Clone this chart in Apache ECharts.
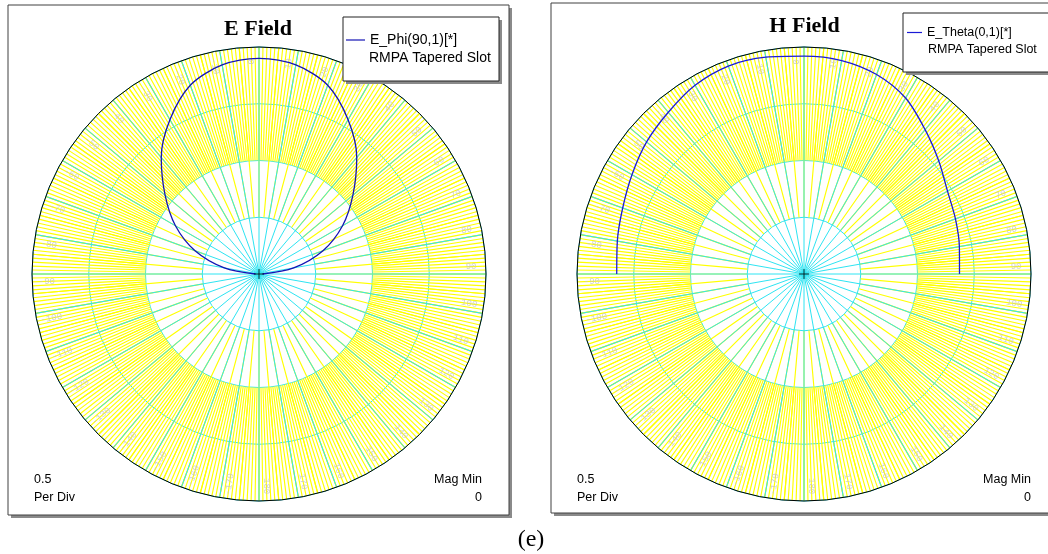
<!DOCTYPE html>
<html><head><meta charset="utf-8">
<script src="https://cdn.jsdelivr.net/npm/echarts@6/dist/echarts.min.js"></script>
<style>html,body{margin:0;padding:0;background:#fff}#c{width:1048px;height:554px}</style>
</head><body><div id="c"></div>
<script>
// ---- data ----
const angleDeg = [-90,-80,-70,-60,-50,-40,-30,-20,-10,0,10,20,30,40,50,60,70,80,90];
const ePhi90   = [0.03,0.31,0.60,0.85,1.08,1.34,1.57,1.77,1.87,1.90,1.87,1.77,1.57,1.34,1.08,0.85,0.60,0.31,0.03];
const eTheta0  = [1.65,1.67,1.70,1.75,1.81,1.86,1.92,1.95,1.94,1.92,1.91,1.87,1.79,1.66,1.55,1.46,1.42,1.39,1.37];
const angleTickLabels = [-170,-160,-150,-140,-130,-120,-110,-100,-90,-80,-70,-60,-50,-40,-30,-20,-10,0,10,20,30,40,50,60,70,80,90,100,110,120,130,140,150,160,170,180];
const seriesNames = ['E_Phi(90,1)[*]', 'E_Theta(0,1)[*]'];
const subtitle = 'RMPA Tapered Slot';
const titles = ['E Field', 'H Field'];
const perDiv = 0.5, magMin = 0, magMax = 2;
const labelRadius = 1.87;

// ---- layout ----
const panels = [
  {cx: 259, cy: 274, data: ePhi90, color: '#1414b4', frame:[8,5,501,510], title:[258,29], legendBox:[343,17,156,64], legendLine:[346,41], legendFont:14, iconW:19, sub:[369,58], leftText:34, rightText:482},
  {cx: 804, cy: 274, data: eTheta0, color: '#1a1ad6', frame:[551,3,510,510], title:[804.5,26], legendBox:[903,13,160,59], legendLine:[907,34], legendFont:12.5, iconW:15, sub:[928,50], leftText:577, rightText:1031}
];
const R = 227;
const CYAN = '#2ee4f2', YELLOW = '#ffff00';

const polar = [], angleAxis = [], radiusAxis = [], series = [], legend = [], graphic = [];

function aAxis(pi, opts) {
  return Object.assign({
    polarIndex: pi, type: 'value', min: -180, max: 180, startAngle: 270, clockwise: true,
    axisLine: {show: false}, axisTick: {show: false}, axisLabel: {show: false}, splitLine: {show: false}
  }, opts);
}
function rAxis(pi, opts) {
  return Object.assign({
    polarIndex: pi, type: 'value', min: magMin, max: magMax, interval: perDiv,
    axisLine: {show: false}, axisTick: {show: false}, axisLabel: {show: false}, splitLine: {show: false}
  }, opts);
}

panels.forEach((p, k) => {
  const b = k * 4;
  polar.push({center: [p.cx, p.cy], radius: [R / 2, R]});
  polar.push({center: [p.cx, p.cy], radius: [R / 4, R]});
  polar.push({center: [p.cx, p.cy], radius: R});
  polar.push({center: [p.cx, p.cy], radius: R});
  angleAxis.push(aAxis(b, {interval: 1, splitLine: {show: true, lineStyle: {color: YELLOW, width: 1.15}}}));
  angleAxis.push(aAxis(b + 1, {interval: 5, splitLine: {show: true, lineStyle: {color: YELLOW, width: 1.15}}}));
  angleAxis.push(aAxis(b + 2, {interval: 10, splitLine: {show: true, lineStyle: {color: CYAN, width: 1}}}));
  angleAxis.push(aAxis(b + 3, {interval: 10, startAngle: 272, axisLine: {show: true, lineStyle: {color: '#000', width: 1}}}));
  radiusAxis.push(rAxis(b));
  radiusAxis.push(rAxis(b + 1));
  radiusAxis.push(rAxis(b + 2, {splitLine: {show: true, lineStyle: {color: CYAN, width: 1}}}));
  radiusAxis.push(rAxis(b + 3));

  series.push({
    name: seriesNames[k], type: 'line', coordinateSystem: 'polar', polarIndex: b + 2,
    data: angleDeg.map((a, i) => [p.data[i], a]), symbol: 'none', smooth: 0.3,
    color: p.color, lineStyle: {color: p.color, width: 1.3}, z: 3, silent: true
  });
  series.push({
    type: 'scatter', coordinateSystem: 'polar', polarIndex: b + 3, symbolSize: 0, silent: true, z: 2,
    data: angleTickLabels.map(a => ({
      value: [labelRadius, a],
      label: {rotate: a >= 0 ? 90 - a : -90 - a}
    })),
    label: {show: true, position: 'inside', formatter: q => String(q.value[1]),
      color: '#c4c4c4', fontSize: 9, fontFamily: 'Liberation Mono'}
  });
  series.push({
    type: 'scatter', coordinateSystem: 'polar', polarIndex: b + 3, silent: true, z: 4,
    data: [[0, 0]], symbol: 'path://M5,0L5,10M0,5L10,5', symbolSize: 10,
    itemStyle: {color: 'transparent', borderColor: '#000', borderWidth: 1}
  });

  legend.push({
    data: [seriesNames[k]], left: p.legendLine[0], top: p.legendLine[1] - 8, padding: 0,
    icon: 'rect', itemWidth: p.iconW, itemHeight: 1.2, itemGap: 0, selectedMode: false, z: 5,
    itemStyle: {color: p.color},
    textStyle: {color: '#000', fontSize: p.legendFont, fontFamily: 'Liberation Sans'}
  });

  const [fx, fy, fw, fh] = p.frame;
  graphic.push({type: 'rect', z: -2, shape: {x: fx + 3, y: fy + 3, width: fw, height: fh}, style: {fill: '#8a8a8a'}});
  graphic.push({type: 'rect', z: -1, shape: {x: fx, y: fy, width: fw, height: fh}, style: {fill: '#fff', stroke: '#404040', lineWidth: 1}});
  const [lx, ly, lw, lh] = p.legendBox;
  graphic.push({type: 'rect', z: 4, shape: {x: lx + 3, y: ly + 3, width: lw, height: lh}, style: {fill: '#8a8a8a'}});
  graphic.push({type: 'rect', z: 4, shape: {x: lx, y: ly, width: lw, height: lh}, style: {fill: '#fff', stroke: '#222', lineWidth: 1}});
  graphic.push({type: 'text', z: 5, x: p.sub[0], y: p.sub[1], style: {text: subtitle, fill: '#000', font: p.legendFont + 'px "Liberation Sans"', textVerticalAlign: 'middle'}});
  graphic.push({type: 'text', z: 5, x: p.title[0], y: p.title[1], style: {text: titles[k], fill: '#000', font: 'bold 22px "Liberation Serif"', textAlign: 'center', textVerticalAlign: 'middle'}});
  graphic.push({type: 'text', z: 5, x: p.leftText, y: 480, style: {text: String(perDiv), fill: '#000', font: '12.5px "Liberation Sans"', textVerticalAlign: 'middle'}});
  graphic.push({type: 'text', z: 5, x: p.leftText, y: 498, style: {text: 'Per Div', fill: '#000', font: '12.5px "Liberation Sans"', textVerticalAlign: 'middle'}});
  graphic.push({type: 'text', z: 5, x: p.rightText, y: 480, style: {text: 'Mag Min', fill: '#000', font: '12.5px "Liberation Sans"', textAlign: 'right', textVerticalAlign: 'middle'}});
  graphic.push({type: 'text', z: 5, x: p.rightText, y: 498, style: {text: String(magMin), fill: '#000', font: '12.5px "Liberation Sans"', textAlign: 'right', textVerticalAlign: 'middle'}});
});
graphic.push({type: 'text', z: 5, x: 531, y: 540, style: {text: '(e)', fill: '#000', font: '24px "Liberation Serif"', textAlign: 'center', textVerticalAlign: 'middle'}});

const chart = echarts.init(document.getElementById('c'), null, {renderer: 'canvas'});
chart.setOption({
  animation: false, backgroundColor: '#fff',
  polar, angleAxis, radiusAxis, series, legend, graphic
});
</script></body></html>
